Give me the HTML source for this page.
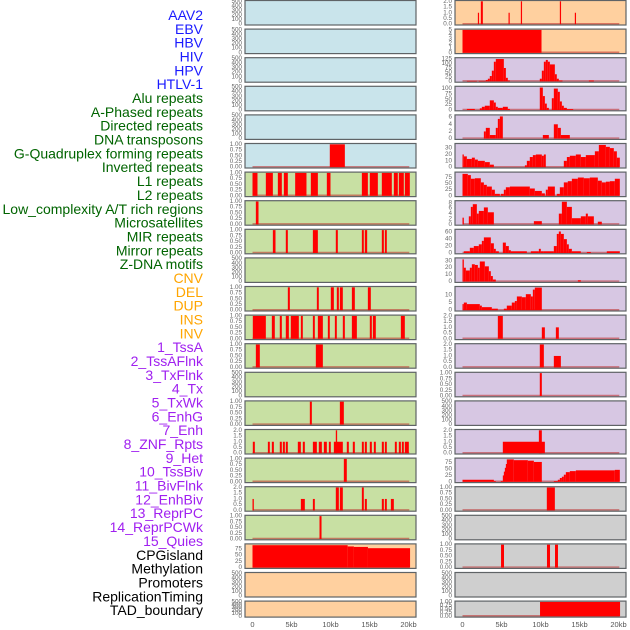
<!DOCTYPE html>
<html><head><meta charset="utf-8">
<style>
html,body{margin:0;padding:0;background:#fff;}
svg{display:block;font-family:"Liberation Sans",Arial,sans-serif;}
</style></head>
<body>
<svg id="chart" width="630" height="630" viewBox="0 0 630 630"></svg>
<script>
// ---------- data ----------
const trackNames = ["AAV2","EBV","HBV","HIV","HPV","HTLV-1","Alu repeats","A-Phased repeats","Directed repeats","DNA transposons","G-Quadruplex forming repeats","Inverted repeats","L1 repeats","L2 repeats","Low_complexity A/T rich regions","Microsatellites","MIR repeats","Mirror repeats","Z-DNA motifs","CNV","DEL","DUP","INS","INV","1_TssA","2_TssAFlnk","3_TxFlnk","4_Tx","5_TxWk","6_EnhG","7_Enh","8_ZNF_Rpts","9_Het","10_TssBiv","11_BivFlnk","12_EnhBiv","13_ReprPC","14_ReprPCWk","15_Quies","CPGisland","Methylation","Promoters","ReplicationTiming","TAD_boundary"];
const labelColors = ["#1a1aff","#006400","#ffa500","#a020f0","#000000"];
const labelGroups = [0,0,0,0,0,0,1,1,1,1,1,1,1,1,1,1,1,1,1,2,2,2,2,2,3,3,3,3,3,3,3,3,3,3,3,3,3,3,3,4,4,4,4,4];
const xTickValues = [0,5,10,15,20];
const xTickLabels = ["0","5kb","10kb","15kb","20kb"];

// tick sets
const ticksUnit = [0,0.25,0.5,0.75,1];
const ticksUnitLabels = ["0.00","0.25","0.50","0.75","1.00"];
const ticksTwo = [0,0.5,1,1.5,2];
const ticksTwoLabels = ["0.0","0.5","1.0","1.5","2.0"];
const ticksEmpty = [0,100,200,300,400,500];
const ticksEmptyLabels = ["0","100","200","300","400","500"];

// bars: [startKb, endKb, value]
const htlvBars = [[9.91,11.84,1]];
const aluBars = [[0,0.64,1],[1.71,2.61,1],[3.25,3.76,1],[4.02,4.53,1],[5.47,6.92,1],[7.48,8.38,1],[9.53,10.0,1],[14.02,14.79,1],[15.04,16.07,1],[16.58,17.86,1],[18.12,18.63,1],[18.76,19.4,1],[19.53,20.17,1]];
const aPhasedBars = [[0.43,0.77,1]];
const directedBars = [[2.61,2.95,1],[4.27,4.53,1],[7.74,8.38,1],[10.68,10.94,1],[14.02,14.27,1],[14.4,14.7,1],[16.58,16.84,1],[16.97,17.22,1]];
const gquadBars = [[4.53,4.79,1],[8.25,8.5,1],[10.04,10.43,1],[10.81,11.07,1],[11.2,11.58,1],[12.74,13.12,1],[14.79,15.17,1]];
const invertedBars = [[0.04,1.71,1],[2.48,2.86,1],[3.5,3.76,1],[4.27,4.66,1],[4.91,5.94,1],[6.2,6.45,1],[7.74,7.99,1],[8.38,9.02,1],[9.66,9.91,1],[10.56,10.81,1],[11.58,11.84,1],[12.74,13.38,1],[15.04,15.3,1],[15.43,15.81,1],[19.02,19.53,1]];
const l1Bars = [[0.43,0.94,1],[8.12,9.02,1]];
const lowComplexBars = [[7.35,7.61,1],[11.2,11.71,1]];
const microBars = [[0.04,0.3,1],[1.97,2.22,1],[2.48,2.74,1],[3.5,3.76,1],[3.89,4.15,1],[4.27,4.53,1],[5.81,6.2,1],[6.45,6.71,1],[7.74,8.25,1],[8.5,8.89,1],[9.15,9.53,1],[9.79,10.04,1],[10.43,11.58,1],[12.09,12.35,1],[12.86,13.12,1],[14.02,14.27,1],[14.4,14.66,1],[15.04,15.3,1],[15.56,15.81,1],[16.58,16.84,1],[16.97,17.22,1],[18.25,18.5,1],[18.76,19.02,1],[19.15,19.4,1],[19.53,20.04,1],[10.68,10.85,2]];
const mirBars = [[11.71,12.09,1]];
const mirrorBars = [[0,0.17,1],[6.2,6.71,1],[7.74,7.99,1],[14.4,14.66,1],[16.58,16.84,1],[16.97,17.22,1],[17.74,18.12,1],[10.68,11.07,2],[11.2,11.58,2],[14.02,14.27,2]];
const zdnaBars = [[8.59,8.85,1]];
const cnvBars = [[0,12.2,90],[12.2,13.0,85],[13.0,14.8,83],[14.8,20.2,78]];
const insBars = [[1.97,2.09,1],[2.35,2.61,2],[5.9,6.03,1],[7.48,7.61,2],[12.48,12.61,2],[14.4,14.53,1]];
const invBars = [[0,10.13,5]];
const tssaBars = [[0.56,1.84,3],[2.09,2.99,3],[2.99,3.25,8],[3.25,3.5,15],[3.5,3.76,30],[3.76,4.02,60],[4.02,4.27,110],[4.27,5.3,125],[5.3,5.56,75],[5.56,5.81,20],[5.81,6.07,5],[9.91,10.17,15],[10.17,10.43,60],[10.43,10.68,110],[10.68,10.94,120],[10.94,11.2,110],[11.2,11.84,95],[11.84,12.09,40],[12.09,12.35,15],[12.35,12.82,5],[16.2,16.84,5]];
const tssaFlnkBars = [[0.56,1.58,5],[2.22,2.48,8],[2.48,2.86,15],[2.86,3.5,20],[3.5,4.02,45],[4.02,4.27,35],[4.27,4.53,15],[4.53,5.17,10],[5.17,5.81,15],[5.81,6.07,5],[9.91,10.3,105],[10.3,10.56,65],[10.56,10.81,30],[10.81,11.07,10],[11.45,11.71,55],[11.71,12.22,100],[12.22,12.48,85],[12.48,12.74,40],[12.74,12.99,20],[12.99,13.38,10],[13.38,14.19,4]];
const txFlnkBars = [[2.74,2.99,2],[2.99,3.5,3],[3.5,4.27,1],[4.27,4.53,3],[4.53,4.79,5.5],[4.79,5.17,6.2],[10.3,11.07,1],[11.71,12.22,4],[12.22,12.61,3],[12.61,13.76,1]];
const txBars = [[0,0.17,20],[0.17,0.56,17],[0.56,1.2,13],[1.2,1.58,15],[1.58,1.97,12],[1.97,2.86,10],[2.86,3.5,8],[3.5,4.02,4],[8.0,8.25,3],[8.25,8.63,10],[8.63,9.02,16],[9.02,9.4,19],[9.4,10.17,20],[10.17,10.43,18],[10.43,10.68,20],[12.99,13.38,10],[13.38,13.76,16],[13.76,14.53,18],[14.53,15.17,20],[15.17,15.81,16],[15.81,16.97,19],[16.97,17.48,25],[17.48,18.38,35],[18.38,18.89,32],[18.89,19.4,30],[19.4,19.79,25],[19.79,20.17,15]];
const txWkBars = [[0,0.68,90],[0.68,1.07,85],[1.07,1.58,70],[1.58,2.35,72],[2.35,2.74,55],[2.74,3.12,45],[3.12,3.76,38],[3.76,4.15,25],[4.15,4.79,8],[4.91,5.3,8],[5.3,5.56,25],[5.56,6.07,35],[6.07,8.63,38],[8.63,9.27,30],[9.27,10.17,20],[10.17,10.56,10],[10.68,10.94,25],[10.94,11.84,38],[12.09,12.48,8],[12.48,12.99,35],[12.99,13.5,55],[13.5,14.02,60],[14.02,14.79,70],[14.79,15.56,75],[15.56,16.32,72],[16.32,17.35,75],[17.35,17.86,62],[17.86,18.38,55],[18.38,18.89,58],[18.89,19.53,60],[19.53,20.17,70]];
const enhGBars = [[0,0.17,2.5],[0.81,1.07,3],[1.07,1.32,6.5],[1.32,1.84,7.5],[1.84,2.09,4],[2.09,2.74,5],[2.74,3.25,6.3],[3.25,4.02,4.5],[9.15,10.17,1.2],[12.35,12.74,4],[12.74,13.38,8.4],[13.38,14.02,6.5],[14.02,15.17,2.3],[15.17,15.81,3],[15.81,16.07,4],[16.07,16.84,3],[17.35,17.86,1]];
const enhBars = [[0.17,0.94,5],[0.94,1.45,15],[1.45,2.09,20],[2.09,2.48,25],[2.48,2.74,35],[2.74,3.63,45],[3.63,4.02,28],[4.02,4.27,12],[4.27,4.66,5],[5.17,5.56,30],[5.56,5.94,20],[5.94,6.2,8],[6.2,8.25,5],[8.76,9.79,5],[9.79,10.04,12],[10.04,10.43,5],[10.43,11.71,5],[11.71,12.09,20],[12.09,12.35,55],[12.35,12.61,62],[12.61,12.99,55],[12.99,13.38,40],[13.38,13.63,25],[13.63,14.02,12],[14.02,15.17,5],[15.94,16.45,3],[18.5,20.17,5]];
const znfBars = [[0,0.17,32],[0.17,0.43,20],[0.43,0.94,16],[0.94,1.2,20],[1.2,1.58,25],[1.58,1.97,24],[1.97,2.22,20],[2.22,2.86,29],[2.86,3.38,22],[3.38,3.63,15],[3.63,3.89,8],[3.89,4.27,3],[14.79,15.17,2]];
const hetBars = [[0,0.17,4],[0.17,0.56,5],[0.56,2.22,4],[2.22,2.48,3],[2.48,3.76,2],[3.76,4.53,1],[5.3,5.68,1],[5.68,6.32,3],[6.32,6.71,5],[6.71,6.97,6],[6.97,7.61,9],[7.61,8.12,8.5],[8.12,8.76,10.5],[8.76,9.02,9],[9.02,9.27,13.5],[9.27,10.17,14.8]];
const tssBivBars = [[4.53,5.17,2],[10.17,10.56,1],[11.97,12.35,1]];
const bivFlnkBars = [[9.91,10.43,2],[11.71,12.61,1]];
const enhBivBars = [[9.91,10.17,1]];
const reprPCWkBars = [[5.17,10.56,1],[9.79,10.17,2]];
const quiesBars = [[0,4.02,8],[4.02,4.27,3],[4.91,5.17,3],[5.17,5.3,25],[5.3,5.43,40],[5.43,5.56,55],[5.56,5.68,70],[5.68,6.58,88],[6.58,8.38,85],[8.38,9.15,83],[9.15,10.17,78],[11.71,12.22,3],[12.22,12.48,8],[12.48,12.74,15],[12.74,12.99,20],[12.99,13.25,28],[13.25,13.76,38],[13.76,14.53,42],[14.53,19.53,45],[19.53,20.17,47]];
const cpgBars = [[10.81,11.84,1]];
const promoterBars = [[4.94,5.32,1],[10.83,11.22,1],[11.86,12.24,1]];
const tadBars = [[9.94,20.2,1]];

// panel specs: [trackIndex, column, row, bgKey, ymax, ticks, tickLabels, bars]
const BG = {v:"#c9e4eb", r:"#c8e0a3", s:"#ffd09f", c:"#d7c7e3", o:"#cfcfcf"};
const panels = [
 [0,0,0,"v",500,ticksEmpty,ticksEmptyLabels,null],
 [1,0,1,"v",500,ticksEmpty,ticksEmptyLabels,null],
 [2,0,2,"v",500,ticksEmpty,ticksEmptyLabels,null],
 [3,0,3,"v",500,ticksEmpty,ticksEmptyLabels,null],
 [4,0,4,"v",500,ticksEmpty,ticksEmptyLabels,null],
 [5,0,5,"v",1,ticksUnit,ticksUnitLabels,htlvBars],
 [6,0,6,"r",1,ticksUnit,ticksUnitLabels,aluBars],
 [7,0,7,"r",1,ticksUnit,ticksUnitLabels,aPhasedBars],
 [8,0,8,"r",1,ticksUnit,ticksUnitLabels,directedBars],
 [9,0,9,"r",500,ticksEmpty,ticksEmptyLabels,null],
 [10,0,10,"r",1,ticksUnit,ticksUnitLabels,gquadBars],
 [11,0,11,"r",1,ticksUnit,ticksUnitLabels,invertedBars],
 [12,0,12,"r",1,ticksUnit,ticksUnitLabels,l1Bars],
 [13,0,13,"r",500,ticksEmpty,ticksEmptyLabels,null],
 [14,0,14,"r",1,ticksUnit,ticksUnitLabels,lowComplexBars],
 [15,0,15,"r",2,ticksTwo,ticksTwoLabels,microBars],
 [16,0,16,"r",1,ticksUnit,ticksUnitLabels,mirBars],
 [17,0,17,"r",2,ticksTwo,ticksTwoLabels,mirrorBars],
 [18,0,18,"r",1,ticksUnit,ticksUnitLabels,zdnaBars],
 [19,0,19,"s",92,[0,25,50,75],["0","25","50","75"],cnvBars],
 [20,0,20,"s",500,ticksEmpty,ticksEmptyLabels,null],
 [21,0,21,"s",500,ticksEmpty,ticksEmptyLabels,null],
 [22,1,0,"s",2,ticksTwo,ticksTwoLabels,insBars],
 [23,1,1,"s",5,[0,1,2,3,4,5],["0","1","2","3","4","5"],invBars],
 [24,1,2,"c",128,[0,25,50,75,100,125],["0","25","50","75","100","125"],tssaBars],
 [25,1,3,"c",107,[0,25,50,75,100],["0","25","50","75","100"],tssaFlnkBars],
 [26,1,4,"c",6.4,[0,2,4,6],["0","2","4","6"],txFlnkBars],
 [27,1,5,"c",36,[0,10,20,30],["0","10","20","30"],txBars],
 [28,1,6,"c",94,[0,25,50,75],["0","25","50","75"],txWkBars],
 [29,1,7,"c",8.5,[0,2,4,6,8],["0","2","4","6","8"],enhGBars],
 [30,1,8,"c",66,[0,20,40,60],["0","20","40","60"],enhBars],
 [31,1,9,"c",33,[0,10,20,30],["0","10","20","30"],znfBars],
 [32,1,10,"c",15,[0,5,10],["0","5","10"],hetBars],
 [33,1,11,"c",2,ticksTwo,ticksTwoLabels,tssBivBars],
 [34,1,12,"c",2,ticksTwo,ticksTwoLabels,bivFlnkBars],
 [35,1,13,"c",1,ticksUnit,ticksUnitLabels,enhBivBars],
 [36,1,14,"c",500,ticksEmpty,ticksEmptyLabels,null],
 [37,1,15,"c",2,ticksTwo,ticksTwoLabels,reprPCWkBars],
 [38,1,16,"c",90,[0,25,50,75],["0","25","50","75"],quiesBars],
 [39,1,17,"o",1,ticksUnit,ticksUnitLabels,cpgBars],
 [40,1,18,"o",500,ticksEmpty,ticksEmptyLabels,null],
 [41,1,19,"o",1,ticksUnit,ticksUnitLabels,promoterBars],
 [42,1,20,"o",500,ticksEmpty,ticksEmptyLabels,null],
 [43,1,21,"o",1,ticksUnit,ticksUnitLabels,tadBars]
];

// ---------- drawing ----------
const NS = "http://www.w3.org/2000/svg";
const svg = document.getElementById("chart");
function mk(tag, attrs, parent){
  const e = document.createElementNS(NS, tag);
  for (const k in attrs) e.setAttribute(k, attrs[k]);
  (parent||svg).appendChild(e);
  return e;
}
const colLeft = [245, 455];
const panelW = 171;
function xScale(col, kb){ return colLeft[col] + 7.5 + kb * 7.8; }
function rowTop(r){ return 0.5 + r * 28.6; }
function rowH(r){ return r === 21 ? 16 : 24.5; }

// labels
trackNames.forEach((name, i) => {
  const t = mk("text", {x:203, y:15 + i*13.84, "text-anchor":"end", "dominant-baseline":"central", "font-size":"14", fill:labelColors[labelGroups[i]]});
  
  
  t.textContent = name;
});

panels.forEach(p => {
  const [ti, col, row, bgKey, ymax, ticks, tickLabels, bars] = p;
  const slug = trackNames[ti].toLowerCase().replace(/[^a-z0-9]+/g,'-');
  const g = mk("g", {});
  
  
  const top = rowTop(row), h = rowH(row), left = colLeft[col];
  const bottom = top + h;
  const y0 = bottom - 0.8, yTop = top + 0.8;
  const yScale = v => y0 - (v / ymax) * (y0 - yTop);
  const bg = mk("rect", {x:left, y:top, width:panelW, height:h, fill:BG[bgKey]}, g);
  
  
  if (bars) {
    const base = mk("line", {x1:xScale(col,0), x2:xScale(col,20.1), y1:y0-0.5, y2:y0-0.5, stroke:"rgba(190,40,40,0.55)", "stroke-width":"1.5"}, g);
    
    
    bars.forEach(b => {
      const x1 = xScale(col, b[0]), x2 = xScale(col, Math.min(b[1], 20.95));
      const yv = Math.max(yScale(b[2]), top);
      const r = mk("rect", {x:x1, y:yv, width:Math.max(x2-x1,1.2), height:y0-yv, fill:"#ff0000"}, g);
      
      
    });
  }
  const border = mk("rect", {x:left, y:top, width:panelW, height:h, fill:"none", stroke:"#5f6366", "stroke-width":"1.2"}, g);
  
  
  ticks.forEach((tv, k) => {
    const tl = mk("text", {x:left-3, y:yScale(tv), "text-anchor":"end", "dominant-baseline":"central", "font-size":"6.3", fill:"#666"}, g);
    
    
    tl.textContent = tickLabels[k];
  });
});

// x axis ticks
[0,1].forEach(col => {
  xTickValues.forEach((v, k) => {
    const t = mk("text", {x:xScale(col, v), y:627, "text-anchor":"middle", "font-size":"7.5", fill:"#555"});
    
    
    t.textContent = xTickLabels[k];
  });
});
</script>
</body></html>
